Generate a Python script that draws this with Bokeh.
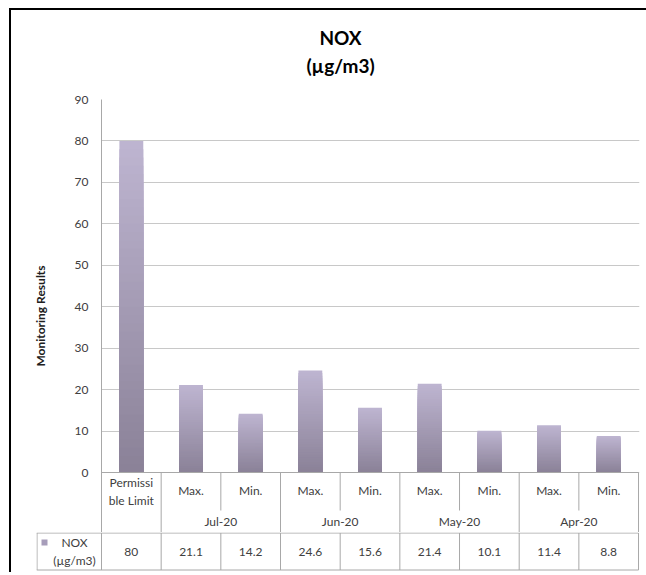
from bokeh.plotting import figure
from bokeh.layouts import column, row
from bokeh.models import Range1d, FixedTicker, ColumnDataSource
from bokeh.core.properties import value
from bokeh.embed import file_html
from bokeh.resources import INLINE

# ---------------- data ----------------
title_lines = ["NOX", "(µg/m3)"]
y_axis_title = "Monitoring Results"
sub_labels = ["Permissi\nble Limit", "Max.", "Min.", "Max.", "Min.", "Max.", "Min.", "Max.", "Min."]
months = ["Jul-20", "Jun-20", "May-20", "Apr-20"]
values = [80, 21.1, 14.2, 24.6, 15.6, 21.4, 10.1, 11.4, 8.8]
value_labels = ["80", "21.1", "14.2", "24.6", "15.6", "21.4", "10.1", "11.4", "8.8"]
series_name = "NOX\n(µg/m3)"
y_ticks = [0, 10, 20, 30, 40, 50, 60, 70, 80, 90]

# ---------------- style / layout ----------------
FONT = "Lato"
TXT = "#404040"
GRID = "#c8c8c8"
TLINE = "#a8a8a8"
TOP_C = (190, 181, 209)
BOT_C = (138, 129, 151)
MID_C = "#a79dba"

W = 635
COL_PX = 59.67                 # pixel width of one category
LEFT = 90                      # chart frame left border
RIGHT = 7
F = W - LEFT - RIGHT           # chart frame width
n = len(values)
x_end = F / COL_PX

TITLE_H = 80
PLOT_PX = 373                  # px between 0 and top tick
ROW1_PX = 60                   # category row height (below 0)
CHART_TOP = 9
CHART_H = CHART_TOP + PLOT_PX + ROW1_PX
ppu = PLOT_PX / (y_ticks[-1] - y_ticks[0])
def below(px):
    return -px / ppu
y_lo = below(ROW1_PX)

LEG_PX = 65
ROW2_H = 40

# ---------------- title ----------------
tf = figure(width=W, height=TITLE_H, output_backend="svg", toolbar_location=None,
            x_range=Range1d(0, F), y_range=Range1d(0, TITLE_H),
            min_border_left=LEFT, min_border_right=RIGHT, min_border_top=0, min_border_bottom=0,
            x_axis_location=None, y_axis_location=None)
tf.outline_line_color = None
tf.xgrid.visible = False
tf.ygrid.visible = False
tf.text(x=[239, 239], y=[53, 25], text=title_lines, text_align="center", text_baseline="middle",
        text_font=value(FONT), text_font_style="bold", text_font_size="19px", text_color="#000000")

# ---------------- chart (with category row of the data table) ----------------
p = figure(width=W, height=CHART_H, output_backend="svg", toolbar_location=None,
           x_range=Range1d(0, x_end), y_range=Range1d(y_lo, y_ticks[-1]),
           min_border_left=LEFT, min_border_right=RIGHT, min_border_top=CHART_TOP, min_border_bottom=0,
           x_axis_location=None)
p.outline_line_color = None
p.background_fill_color = "white"
p.border_fill_color = "white"
p.xgrid.visible = False
p.ygrid.grid_line_color = GRID
p.ygrid.ticker = FixedTicker(ticks=y_ticks)
ax = p.yaxis[0]
ax.ticker = FixedTicker(ticks=y_ticks)
ax.major_tick_line_color = None
ax.minor_tick_line_color = None
ax.major_tick_out = 0
ax.major_tick_in = 0
ax.major_label_standoff = 13
ax.axis_line_color = TLINE
ax.major_label_text_font = FONT
ax.major_label_text_font_size = "12px"
ax.major_label_text_color = TXT
ax.axis_label = y_axis_title
ax.axis_label_text_font = FONT
ax.axis_label_text_font_style = "bold"
ax.axis_label_text_font_size = "12px"
ax.axis_label_text_color = "#202020"
ax.axis_label_standoff = 24

# gradient bars: nested layers, lightest (full height) first, darker shorter ones on top
N = 40
xs, tops, cols = [], [], []
for k in range(N):
    frac = 1 - k / N
    tt = frac - 0.5 / N
    c = tuple(int(round(BOT_C[j] + (TOP_C[j] - BOT_C[j]) * tt)) for j in range(3))
    col = "#%02x%02x%02x" % c
    for i, v in enumerate(values):
        xs.append(i + 0.5)
        tops.append(v * frac)
        cols.append(col)
src = ColumnDataSource(dict(x=xs, top=tops, color=cols))
p.vbar(x="x", top="top", bottom=0, width=0.4, fill_color="color", line_color=None, source=src)

# category row lines
sx0, sy0, sx1, sy1 = [], [], [], []
def seg(a, b, c, d):
    sx0.append(a); sy0.append(b); sx1.append(c); sy1.append(d)
seg(0, 0, n, 0)
seg(1, 0, 1, y_lo)
for m in range(len(months)):
    left = 1 + 2 * m
    seg(left + 1, 0, left + 1, below(38))
    seg(left + 2, 0, left + 2, y_lo)
p.segment(x0=sx0, y0=sy0, x1=sx1, y1=sy1, line_color=TLINE, line_width=1)

p.text(x=[i + 0.5 for i in range(n)], y=[below(19)] + [below(18)] * (n - 1), text=sub_labels,
       text_align="center", text_baseline="middle", text_font=value(FONT),
       text_font_size="12px", text_color=TXT, text_line_height=1.15)
p.text(x=[2 + 2 * m for m in range(len(months))], y=[below(49)] * len(months), text=months,
       text_align="center", text_baseline="middle", text_font=value(FONT),
       text_font_size="12px", text_color=TXT)

# ---------------- value row of the data table ----------------
x0 = -LEG_PX / COL_PX
t = figure(width=W, height=ROW2_H, output_backend="svg", toolbar_location=None,
           x_range=Range1d(x0, x_end), y_range=Range1d(0, ROW2_H),
           min_border_left=LEFT - LEG_PX, min_border_right=RIGHT, min_border_top=0, min_border_bottom=0,
           x_axis_location=None, y_axis_location=None)
t.outline_line_color = None
t.xgrid.visible = False
t.ygrid.visible = False
t.border_fill_color = "white"

hx = 0.5 / COL_PX
ty0, ty1 = 2.5, ROW2_H - 0.5
tx0, tyy0, tx1, tyy1 = [], [], [], []
for (a, b, c, d) in [(x0, ty1, n, ty1), (x0, ty0, n, ty0), (x0 + hx, ty0, x0 + hx, ty1)] + \
        [(i, ty0, i, ty1) for i in range(n + 1)]:
    tx0.append(a); tyy0.append(b); tx1.append(c); tyy1.append(d)
t.segment(x0=tx0, y0=tyy0, x1=tx1, y1=tyy1, line_color=TLINE, line_width=1)

t.text(x=[i + 0.5 for i in range(n)], y=[21] * n, text=value_labels,
       text_align="center", text_baseline="middle", text_font=value(FONT),
       text_font_size="12px", text_color=TXT)
t.text(x=[-27 / COL_PX], y=[21], text=[series_name],
       text_align="center", text_baseline="middle", text_font=value(FONT),
       text_font_size="12px", text_color=TXT, text_line_height=1.15)
t.scatter(x=[-57 / COL_PX], y=[30], marker="square", size=6, fill_color=MID_C, line_color=None)

layout = column(tf, p, row(t, spacing=0), spacing=0,
                styles={"margin-left": "9px", "margin-top": "8px",
                        "border-left": "2px solid #000", "border-top": "2px solid #000",
                        "background-color": "white"})

open("out.html", "w").write(file_html(layout, INLINE))
